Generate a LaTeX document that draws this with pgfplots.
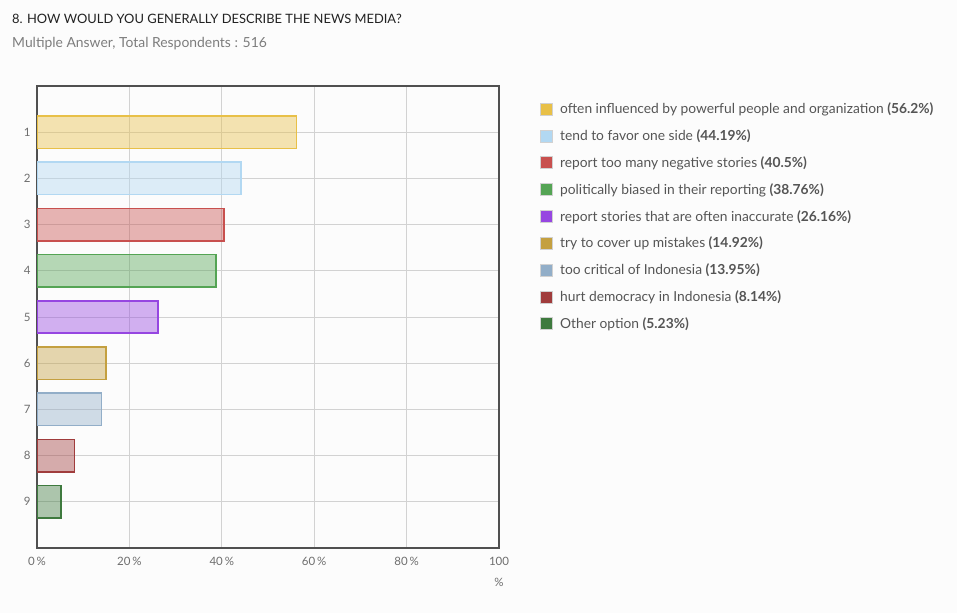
\documentclass[border=0pt]{standalone}
\usepackage{fontspec}
\setmainfont{Lato}
\usepackage{pgfplots}
\pgfplotsset{compat=1.18}
\definecolor{bgc}{RGB}{252,252,252}
\definecolor{titlec}{RGB}{34,34,34}
\definecolor{subc}{RGB}{125,125,125}
\definecolor{tickc}{RGB}{110,110,110}
\definecolor{gridc}{RGB}{210,210,210}
\definecolor{axisc}{RGB}{80,80,80}
\definecolor{legc}{RGB}{85,85,85}
\definecolor{c1}{RGB}{232,192,72}
\definecolor{c2}{RGB}{178,216,242}
\definecolor{c3}{RGB}{200,80,78}
\definecolor{c4}{RGB}{84,164,84}
\definecolor{c5}{RGB}{150,70,225}
\definecolor{c6}{RGB}{196,160,64}
\definecolor{c7}{RGB}{146,174,200}
\definecolor{c8}{RGB}{160,60,60}
\definecolor{c9}{RGB}{62,122,62}
\begin{document}
\begin{tikzpicture}
\fill[bgc] (0,0) rectangle (957pt,-613pt);
\path[use as bounding box] (0,0) rectangle (957pt,-613pt);
\node[anchor=west, inner sep=0pt, text=titlec, font=\fontsize{12.9}{15}\selectfont] at (12pt,-19pt) {8. HOW WOULD YOU GENERALLY DESCRIBE THE NEWS MEDIA?};
\node[anchor=west, inner sep=0pt, text=subc, font=\fontsize{13.9}{16}\selectfont] at (12pt,-44pt) {Multiple Answer, Total Respondents : 516};
\begin{axis}[
  at={(268pt,-317pt)}, anchor=center,
  scale only axis, width=462pt, height=462pt,
  xbar, bar width=0.7, bar shift=0pt,
  xmin=0, xmax=100, ymin=0, ymax=10, y dir=reverse,
  xtick={0,20,40,60,80,100},
  xticklabels={0\,\%,20\,\%,40\,\%,60\,\%,80\,\%,100\\[7pt]\%},
  ytick={1,2,3,4,5,6,7,8,9},
  yticklabels={1,2,3,4,5,6,7,8,9},
  grid=major, major grid style={color=gridc, line width=0.7pt},
  axis line style={color=axisc, line width=2pt},
  major tick length=0pt,
  tick label style={font=\fontsize{11.5}{13.5}\selectfont, text=tickc},
  xticklabel style={align=center, yshift=-6pt},
  yticklabel style={xshift=-3pt},
  legend style={at={(axis cs:108.9,0.32)}, anchor=north west, draw=none, fill=none,
    inner sep=0pt, font=\fontsize{13.8}{16}\selectfont, text=legc, row sep=10.5pt,
    column sep=5pt, cells={anchor=west}},
  legend image code/.code={\draw[#1, fill opacity=1, draw=black!18, line width=0.8pt] (0pt,-6pt) rectangle (12pt,6pt);},
]
\addplot[draw=c1, fill=c1, fill opacity=0.42, line width=1.7pt] coordinates {(56.2,1)};
\addlegendentry{often influenced by powerful people and organization \textbf{(56.2\%)}}
\addplot[draw=c2, fill=c2, fill opacity=0.42, line width=1.7pt] coordinates {(44.19,2)};
\addlegendentry{tend to favor one side \textbf{(44.19\%)}}
\addplot[draw=c3, fill=c3, fill opacity=0.42, line width=1.7pt] coordinates {(40.5,3)};
\addlegendentry{report too many negative stories \textbf{(40.5\%)}}
\addplot[draw=c4, fill=c4, fill opacity=0.42, line width=1.7pt] coordinates {(38.76,4)};
\addlegendentry{politically biased in their reporting \textbf{(38.76\%)}}
\addplot[draw=c5, fill=c5, fill opacity=0.42, line width=1.7pt] coordinates {(26.16,5)};
\addlegendentry{report stories that are often inaccurate \textbf{(26.16\%)}}
\addplot[draw=c6, fill=c6, fill opacity=0.42, line width=1.7pt] coordinates {(14.92,6)};
\addlegendentry{try to cover up mistakes \textbf{(14.92\%)}}
\addplot[draw=c7, fill=c7, fill opacity=0.42, line width=1.7pt] coordinates {(13.95,7)};
\addlegendentry{too critical of Indonesia \textbf{(13.95\%)}}
\addplot[draw=c8, fill=c8, fill opacity=0.42, line width=1.7pt] coordinates {(8.14,8)};
\addlegendentry{hurt democracy in Indonesia \textbf{(8.14\%)}}
\addplot[draw=c9, fill=c9, fill opacity=0.42, line width=1.7pt] coordinates {(5.23,9)};
\addlegendentry{Other option \textbf{(5.23\%)}}
\end{axis}
\end{tikzpicture}
\end{document}
